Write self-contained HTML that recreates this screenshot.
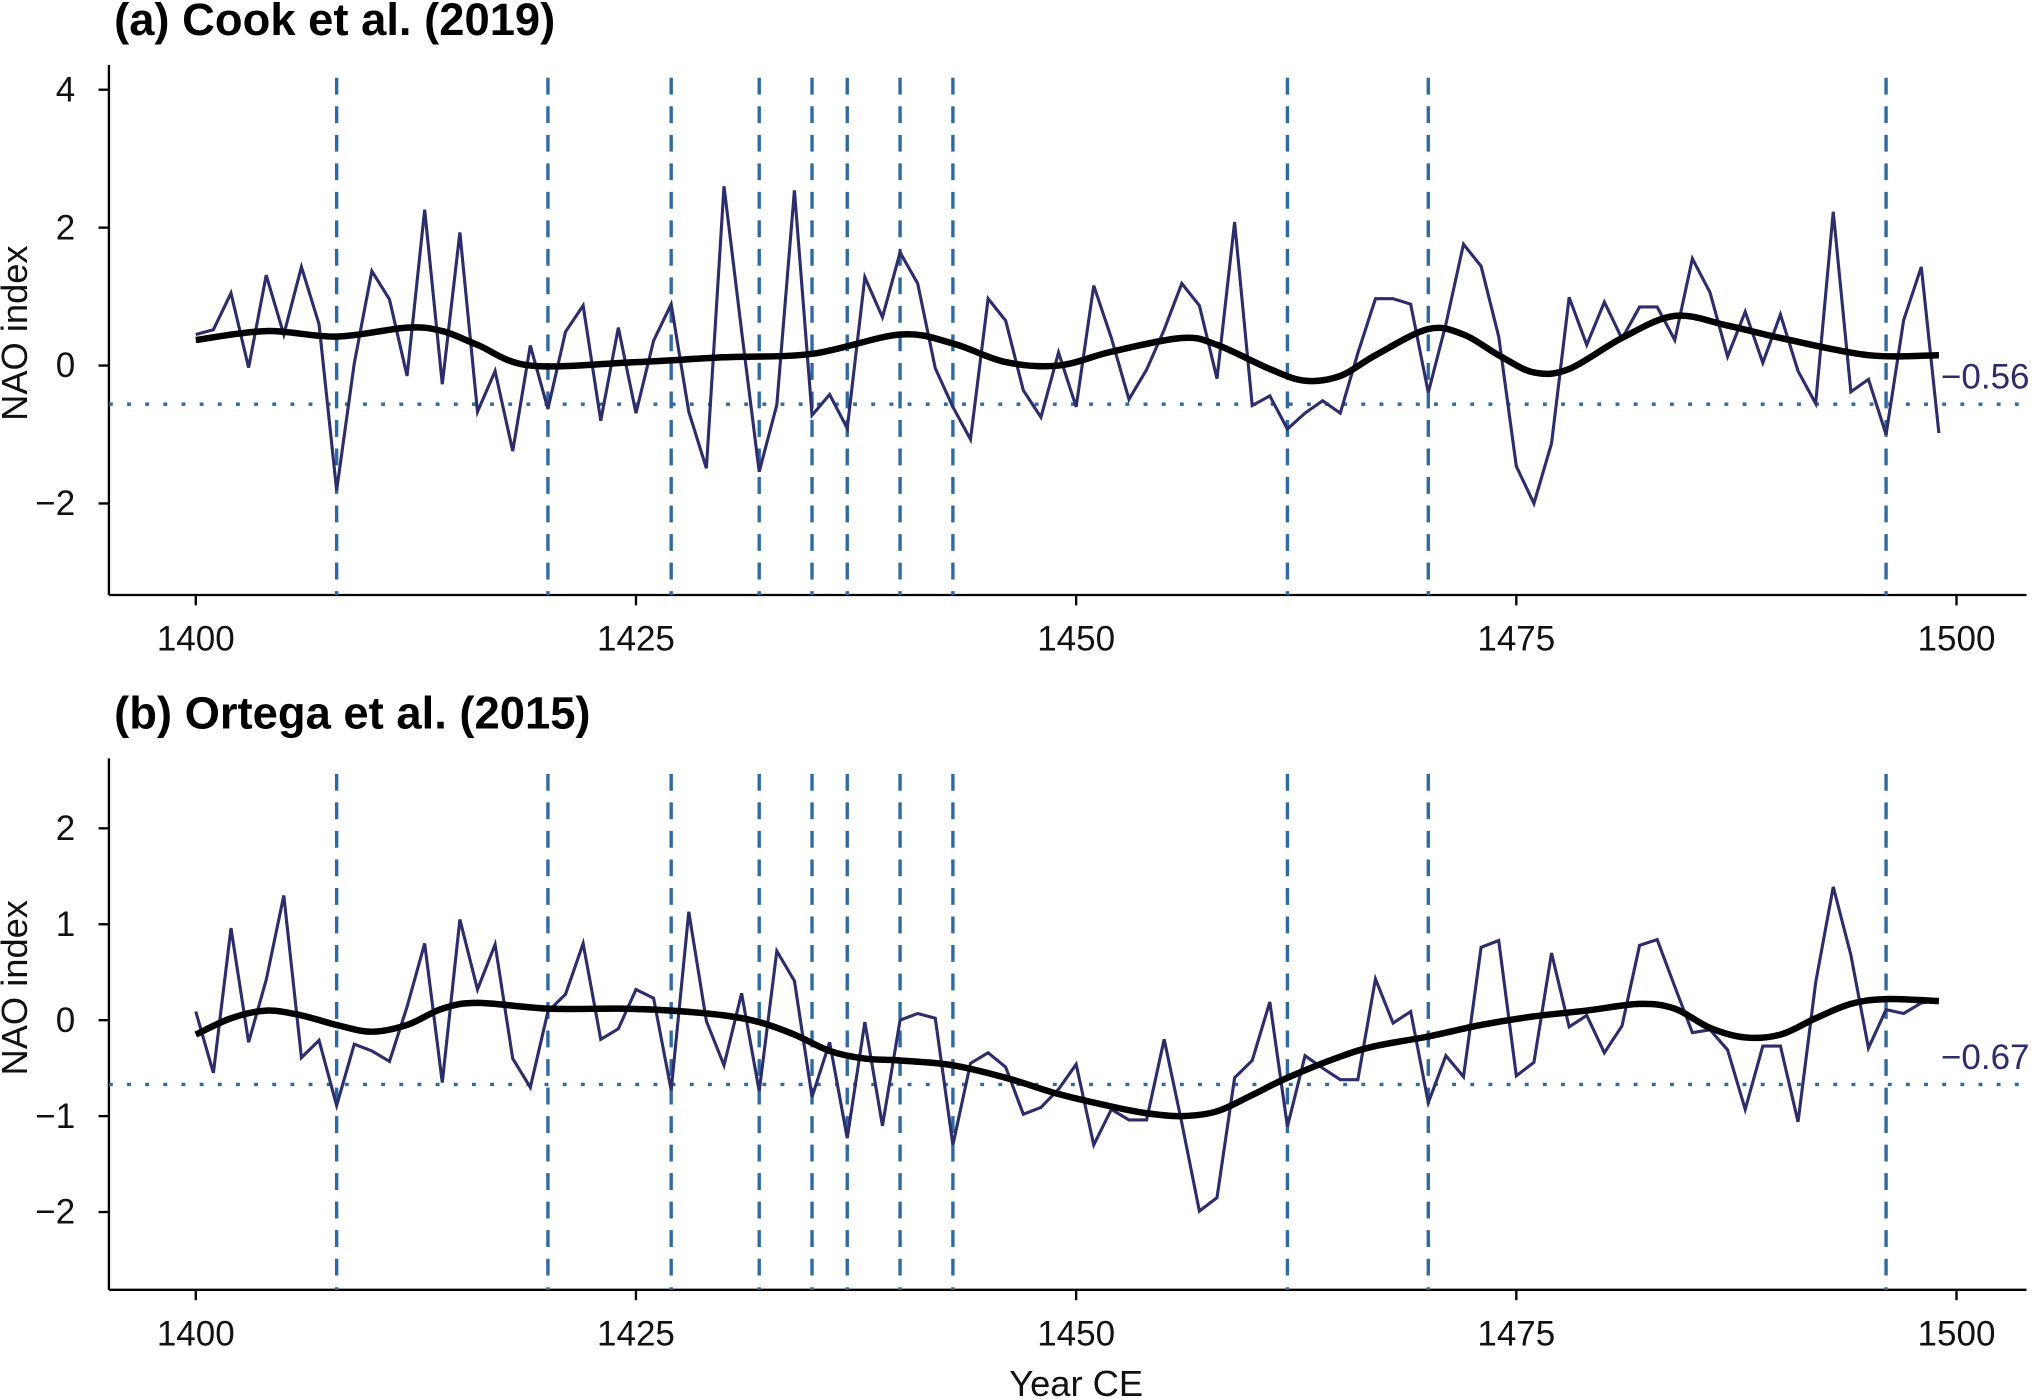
<!DOCTYPE html>
<html><head><meta charset="utf-8"><style>
html,body{margin:0;padding:0;background:#fff;}
svg{display:block;font-family:"Liberation Sans",Arial,sans-serif;}
</style></head><body>
<svg id="chart" width="2033" height="1400" viewBox="0 0 1568 1080" preserveAspectRatio="none" xmlns="http://www.w3.org/2000/svg"></svg>
<script>
const years = Array.from({length:100},(_,i)=>1400+i);
const cookValues = [0.45,0.52,1.05,-0.03,1.31,0.45,1.43,0.6,-1.81,0.03,1.37,0.96,-0.15,2.26,-0.27,1.93,-0.67,-0.08,-1.24,0.29,-0.63,0.49,0.87,-0.8,0.55,-0.69,0.36,0.89,-0.67,-1.49,2.6,0.5,-1.54,-0.57,2.54,-0.72,-0.42,-0.91,1.28,0.7,1.64,1.19,-0.04,-0.6,-1.07,0.97,0.65,-0.36,-0.75,0.19,-0.6,1.16,0.4,-0.49,-0.06,0.52,1.19,0.87,-0.19,2.08,-0.58,-0.44,-0.92,-0.69,-0.51,-0.69,0.18,0.97,0.97,0.89,-0.39,0.6,1.76,1.44,0.42,-1.46,-2.0,-1.13,0.99,0.3,0.92,0.39,0.85,0.85,0.37,1.55,1.06,0.13,0.78,0.04,0.74,-0.08,-0.55,2.23,-0.38,-0.2,-1.0,0.66,1.43,-0.98];
const cookSmoothYears = [1400,1404,1408,1412,1414,1416,1419,1425,1430,1435,1440,1443,1446,1449,1452,1456,1458,1461,1463,1465,1467,1470,1472,1474,1476,1478,1481,1484,1487,1490,1495,1499];
const cookSmooth = [0.37,0.5,0.42,0.55,0.5,0.3,0.0,0.05,0.12,0.17,0.45,0.32,0.05,0.0,0.2,0.4,0.3,-0.05,-0.22,-0.15,0.15,0.53,0.45,0.15,-0.1,-0.05,0.4,0.72,0.58,0.4,0.15,0.15];
const ortegaValues = [0.09,-0.55,0.96,-0.23,0.42,1.3,-0.39,-0.21,-0.89,-0.25,-0.32,-0.43,0.14,0.8,-0.65,1.05,0.32,0.79,-0.4,-0.7,0.09,0.27,0.8,-0.2,-0.09,0.32,0.23,-0.73,1.13,-0.01,-0.47,0.28,-0.74,0.72,0.41,-0.8,-0.23,-1.23,-0.02,-1.1,0.0,0.07,0.02,-1.3,-0.45,-0.34,-0.49,-0.98,-0.91,-0.72,-0.46,-1.3,-0.93,-1.04,-1.04,-0.2,-1.07,-1.99,-1.85,-0.6,-0.42,0.19,-1.11,-0.37,-0.5,-0.62,-0.62,0.43,-0.03,0.09,-0.86,-0.37,-0.59,0.76,0.83,-0.58,-0.44,0.7,-0.07,0.05,-0.34,-0.06,0.78,0.84,0.35,-0.13,-0.1,-0.31,-0.93,-0.27,-0.27,-1.06,0.39,1.39,0.68,-0.29,0.11,0.07,0.18,0.21];
const ortegaSmoothYears = [1400,1402,1404,1406,1408,1410,1412,1414,1416,1420,1424,1427,1430,1432,1434,1436,1438,1440,1443,1446,1449,1452,1454,1456,1458,1460,1462,1465,1467,1470,1473,1476,1479,1482,1484,1486,1488,1490,1492,1494,1496,1499];
const ortegaSmooth = [-0.15,0.02,0.1,0.05,-0.05,-0.12,-0.05,0.12,0.18,0.12,0.12,0.1,0.05,-0.02,-0.15,-0.32,-0.4,-0.42,-0.47,-0.6,-0.77,-0.9,-0.97,-1.0,-0.95,-0.78,-0.6,-0.38,-0.27,-0.17,-0.05,0.04,0.1,0.17,0.12,-0.08,-0.18,-0.15,0.02,0.17,0.22,0.2];
const eventYears = [1408,1420,1427,1432,1435,1437,1440,1443,1462,1470,1496];
const xTicks = [1400,1425,1450,1475,1500];
const cookYTicks = [4,2,0,-2];
const ortegaYTicks = [2,1,0,-1,-2];
const cookThreshold = -0.56;
const ortegaThreshold = -0.67;

const NS="http://www.w3.org/2000/svg";
const svg=document.getElementById('chart');
function mk(tag,attrs,parent){const e=document.createElementNS(NS,tag);for(const k in attrs)e.setAttribute(k,attrs[k]);(parent||svg).appendChild(e);return e;}
const xScale = y => 151 + (y-1400)*13.58;

function smoothPath(pts){
  let d=`M${pts[0][0]},${pts[0][1]}`;
  for(let i=0;i<pts.length-1;i++){
    const p0=pts[Math.max(0,i-1)],p1=pts[i],p2=pts[i+1],p3=pts[Math.min(pts.length-1,i+2)];
    const c1=[p1[0]+(p2[0]-p0[0])/6,p1[1]+(p2[1]-p0[1])/6];
    const c2=[p2[0]-(p3[0]-p1[0])/6,p2[1]-(p3[1]-p1[1])/6];
    d+=` C${c1[0]},${c1[1]} ${c2[0]},${c2[1]} ${p2[0]},${p2[1]}`;
  }
  return d;
}

function panel(cfg){
  const g=mk('g',{});
  
  
  const yScale=v=>cfg.y0 - v*cfg.unit;
  const t=mk('text',{x:88,y:cfg.titleY,'font-size':35,'font-weight':'bold',fill:'#000'},g);
  t.textContent=cfg.title;
  
  
  const ya=mk('line',{x1:84,y1:cfg.axTop,x2:84,y2:cfg.axBottom,stroke:'#000','stroke-width':1.8},g);
  
  
  const xa=mk('line',{x1:84,y1:cfg.axBottom,x2:1563,y2:cfg.axBottom,stroke:'#000','stroke-width':1.8},g);
  
  
  cfg.yTicks.forEach(v=>{
    const y=yScale(v);
    mk('line',{x1:76,y1:y,x2:84,y2:y,stroke:'#000','stroke-width':1.8},g);
    const tl=mk('text',{x:58,y:y+9,'font-size':27,'text-anchor':'end',fill:'#111'},g);
    tl.textContent=v<0?'\u2212'+Math.abs(v):String(v);
    
    
  });
  xTicks.forEach(v=>{
    const x=xScale(v);
    mk('line',{x1:x,y1:cfg.axBottom,x2:x,y2:cfg.axBottom+8,stroke:'#000','stroke-width':1.8},g);
    const tl=mk('text',{x:x,y:cfg.axBottom+43,'font-size':27,'text-anchor':'middle',fill:'#111'},g);
    tl.textContent=v;
    
    
  });
  const yl=mk('text',{x:0,y:0,'font-size':28,'text-anchor':'middle',fill:'#111',transform:`translate(21,${cfg.y0-25}) rotate(-90)`},g);
  yl.textContent='NAO index';
  
  
  eventYears.forEach(yr=>{
    const l=mk('line',{x1:xScale(yr),y1:cfg.evTop,x2:xScale(yr),y2:cfg.axBottom,stroke:'#2e6aa1','stroke-width':2.6,'stroke-dasharray':'13,9'},g);
    
    
  });
  const th=mk('line',{x1:84,y1:yScale(cfg.threshold),x2:1563,y2:yScale(cfg.threshold),stroke:'#2e6aa1','stroke-width':2.6,'stroke-dasharray':'3,11'},g);
  
  
  const tt=mk('text',{x:1497,y:yScale(cfg.threshold)-12,'font-size':27,fill:'#2d2d6b'},g);
  tt.textContent='\u2212'+Math.abs(cfg.threshold).toFixed(2);
  
  
  const pts=cfg.values.map((v,i)=>xScale(years[i])+','+yScale(v)).join(' ');
  const s=mk('polyline',{points:pts,fill:'none',stroke:'#2d2d6b','stroke-width':2.4,'stroke-linejoin':'miter'},g);
  
  
  const sp=cfg.smoothYears.map((yr,i)=>[xScale(yr),yScale(cfg.smooth[i])]);
  const sm=mk('path',{d:smoothPath(sp),fill:'none',stroke:'#000','stroke-width':5,'stroke-linecap':'butt'},g);
  
  
}
panel({name:'panel-a-cook',title:'(a) Cook et al. (2019)',titleY:27,y0:282,unit:53.2,axTop:50,axBottom:459,evTop:60,yTicks:cookYTicks,threshold:cookThreshold,values:cookValues,smoothYears:cookSmoothYears,smooth:cookSmooth});
panel({name:'panel-b-ortega',title:'(b) Ortega et al. (2015)',titleY:562,y0:787,unit:74,axTop:585,axBottom:995,evTop:597,yTicks:ortegaYTicks,threshold:ortegaThreshold,values:ortegaValues,smoothYears:ortegaSmoothYears,smooth:ortegaSmooth});
const xt=mk('text',{x:830,y:1077,'font-size':28,'text-anchor':'middle',fill:'#111'});
xt.textContent='Year CE';


</script>
</body></html>
